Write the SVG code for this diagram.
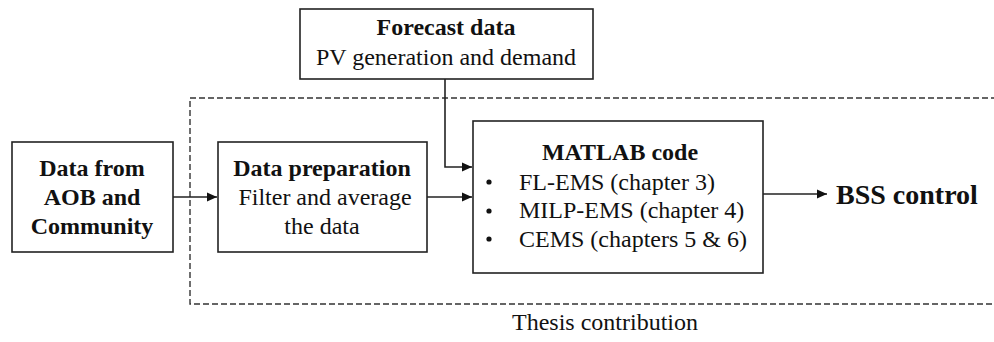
<svg xmlns="http://www.w3.org/2000/svg" width="994" height="342" viewBox="0 0 994 342" font-family="Liberation Serif, Times New Roman, Times, serif">
  <style>
    .box { fill: #fff; stroke: #222; stroke-width: 1.6; }
    .frame { fill: none; stroke: #333; stroke-width: 1.4; stroke-dasharray: 6 3; }
    .wire { fill: none; stroke: #222; stroke-width: 1.6; }
    text { font-size: 24px; fill: #111; }
    .b { font-weight: bold; }
    .mid { text-anchor: middle; }
    .big { font-size: 28px; }
  </style>
  <defs>
    <marker id="arrow" viewBox="0 0 10 10" refX="10" refY="5" markerWidth="10" markerHeight="10" markerUnits="userSpaceOnUse" orient="auto">
      <path d="M0,0.5 L10,5 L0,9.5 z" fill="#111"/>
    </marker>
  </defs>
  <rect width="994" height="342" fill="#fff"/>

  <!-- dashed boundary of the thesis scope -->
  <g id="scope">
    <rect class="frame" x="190" y="98" width="820" height="206"/>
    <text class="mid" x="605" y="330">Thesis contribution</text>
  </g>

  <!-- connectors -->
  <g id="connectors">
    <path class="wire" d="M445,79 V167 H472" marker-end="url(#arrow)"/>
    <path class="wire" d="M173,197 H217" marker-end="url(#arrow)"/>
    <path class="wire" d="M427,197 H472" marker-end="url(#arrow)"/>
    <path class="wire" d="M763,194 H827" marker-end="url(#arrow)"/>
  </g>

  <g id="forecast">
    <rect class="box" x="300" y="9" width="293" height="70"/>
    <text class="b mid" x="446" y="35">Forecast data</text>
    <text class="mid" x="446" y="65">PV generation and demand</text>
  </g>

  <g id="source">
    <rect class="box" x="12" y="142" width="161" height="110"/>
    <text class="b mid" x="92" y="176">Data from</text>
    <text class="b mid" x="92" y="205">AOB and</text>
    <text class="b mid" x="92" y="234">Community</text>
  </g>

  <g id="preparation">
    <rect class="box" x="218" y="142" width="209" height="110"/>
    <text class="b mid" x="322" y="176">Data preparation</text>
    <text class="mid" x="325" y="205">Filter and average</text>
    <text class="mid" x="322" y="234">the data</text>
  </g>

  <g id="matlab">
    <rect class="box" x="473" y="121" width="290" height="152"/>
    <text class="b mid" x="620" y="160">MATLAB code</text>
    <circle cx="489" cy="182" r="2.6" fill="#111"/>
    <circle cx="489" cy="211" r="2.6" fill="#111"/>
    <circle cx="489" cy="239" r="2.6" fill="#111"/>
    <text x="519" y="190">FL-EMS (chapter 3)</text>
    <text x="519" y="218">MILP-EMS (chapter 4)</text>
    <text x="519" y="247">CEMS (chapters 5 &amp; 6)</text>
  </g>

  <g id="output">
    <text class="b big" x="836" y="204">BSS control</text>
  </g>
</svg>
